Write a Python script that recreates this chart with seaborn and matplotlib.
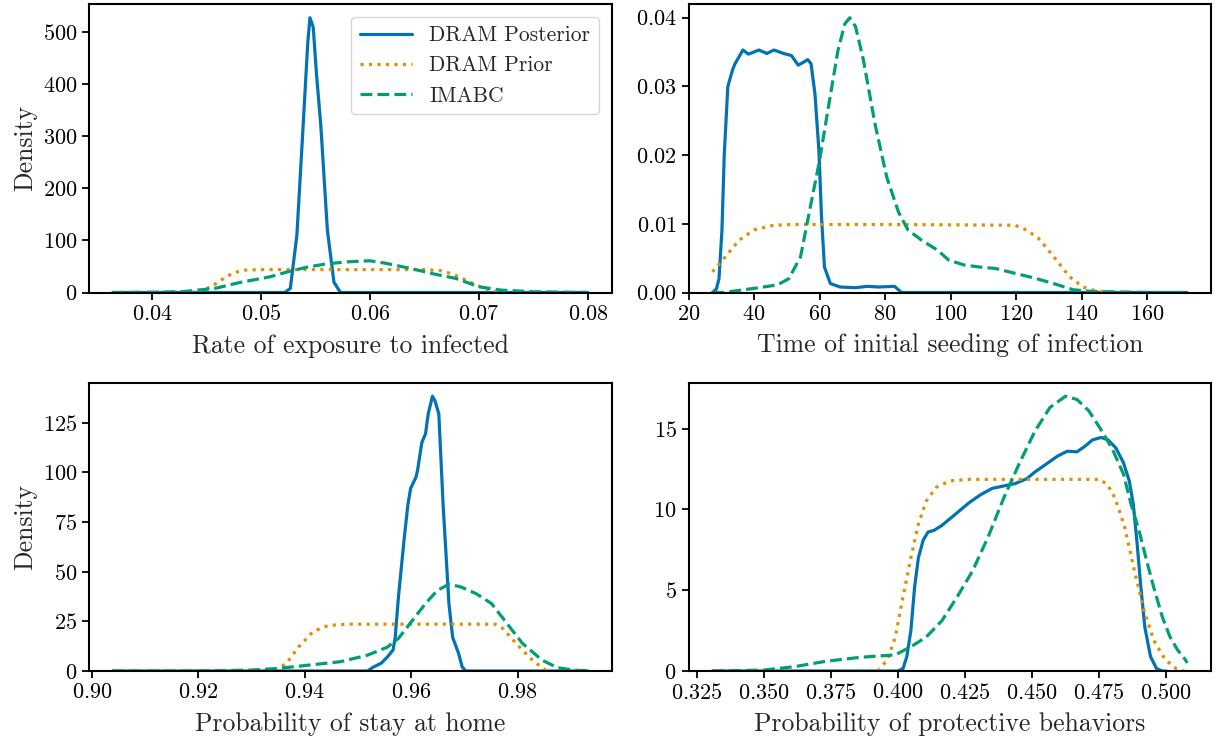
import numpy as np
import pandas as pd
import matplotlib
matplotlib.use("Agg")
import matplotlib.pyplot as plt
import seaborn as sns

# Density curves (x, density) for each panel

# Rate of exposure to infected
exp_post_x = [0.0364, 0.0500, 0.0522, 0.0527, 0.0533, 0.0539, 0.0543, 0.0545, 0.0548, 0.0551, 0.0555, 0.0561, 0.0567, 0.0573, 0.0600, 0.0800]
exp_post_y = [0, 0, 0, 8, 110, 330, 480, 528, 510, 420, 320, 120, 20, 0, 0, 0]
exp_prior_x = [0.0435, 0.0445, 0.0455, 0.0465, 0.0475, 0.0485, 0.0500, 0.0550, 0.0600, 0.0650, 0.0665, 0.0675, 0.0685, 0.0695, 0.0705, 0.0715, 0.0722]
exp_prior_y = [0, 3, 12, 26, 38, 43, 44, 44, 44, 44, 42, 36, 27, 17, 8, 2, 0]
exp_imabc_x = [0.0364, 0.0400, 0.0430, 0.0458, 0.0480, 0.0508, 0.0525, 0.0543, 0.0560, 0.0580, 0.0600, 0.0615, 0.0640, 0.0660, 0.0679, 0.0700, 0.0721, 0.0750, 0.0800]
exp_imabc_y = [0, 0.5, 2, 8, 19, 30, 40, 49, 55, 59, 61, 56, 45, 35, 27, 11, 4.5, 1.5, 0]

# Time of initial seeding of infection
seed_post_x = [27.3, 28.5, 29.3, 30.2, 30.9, 32.0, 33.5, 34.2, 36.6, 38.3, 41.5, 43.9, 46.1, 49.0, 51.4, 53.5, 55.0, 56.4, 57.4, 58.6, 59.8, 60.6, 61.5, 63.3, 66.3, 71.0, 74.6, 78.0, 82.9, 85.0, 172.2]
seed_post_y = [0, 0.0005, 0.002, 0.0090, 0.0200, 0.0300, 0.0325, 0.0333, 0.0353, 0.0347, 0.0353, 0.0348, 0.0353, 0.0348, 0.0345, 0.0331, 0.0335, 0.0339, 0.0333, 0.0289, 0.0207, 0.0110, 0.0037, 0.0013, 0.0008, 0.0007, 0.0009, 0.0008, 0.0009, 0, 0]
seed_prior_x = [27.3, 30.7, 35.4, 40.0, 46.0, 52.0, 80.0, 119.6, 123.2, 126.8, 131.5, 136.3, 140.4, 144.6, 149.0]
seed_prior_y = [0.0030, 0.0049, 0.0076, 0.0091, 0.0098, 0.0099, 0.0099, 0.0098, 0.0091, 0.0079, 0.0052, 0.0023, 0.0008, 0.0002, 0]
seed_imabc_x = [27.3, 30.7, 40.0, 47.1, 50.6, 54.2, 57.2, 60.0, 62.7, 65.6, 67.7, 69.2, 71.0, 73.4, 76.9, 80.5, 84.1, 87.0, 91.2, 95.9, 99.5, 104.2, 109.0, 113.7, 119.6, 125.6, 131.5, 137.4, 143.3, 149.0, 161.0, 172.2]
seed_imabc_y = [0, 0, 0.0006, 0.0011, 0.0020, 0.0052, 0.0125, 0.0192, 0.0270, 0.0352, 0.0391, 0.0400, 0.0387, 0.0338, 0.0246, 0.0168, 0.0117, 0.0091, 0.0076, 0.0062, 0.0047, 0.0040, 0.0037, 0.0035, 0.0028, 0.0021, 0.0013, 0.0004, 0.00015, 0.0001, 0, 0]

# Probability of stay at home
home_post_x = [0.9039, 0.9518, 0.9529, 0.9544, 0.9555, 0.9566, 0.9570, 0.9576, 0.9587, 0.9594, 0.9599, 0.9609, 0.9612, 0.9620, 0.9627, 0.9632, 0.9640, 0.9645, 0.9652, 0.9660, 0.9671, 0.9678, 0.9689, 0.9696, 0.9703, 0.9932]
home_post_y = [0, 0, 2, 4, 7, 10.6, 17, 37, 67, 84, 92, 97.6, 101, 115, 119.5, 129.5, 138.4, 136, 129.5, 84, 34, 17, 9, 2, 0, 0]
home_prior_x = [0.9344, 0.9366, 0.9388, 0.9416, 0.9445, 0.9482, 0.9600, 0.9758, 0.9772, 0.9787, 0.9809, 0.9831, 0.9853, 0.9860]
home_prior_y = [0, 4, 12, 20, 23, 23.6, 23.6, 23.6, 21.5, 17, 10.6, 4.7, 0.5, 0]
home_imabc_x = [0.9039, 0.9200, 0.9300, 0.9350, 0.9408, 0.9467, 0.9518, 0.9555, 0.9576, 0.9598, 0.9627, 0.9649, 0.9671, 0.9693, 0.9722, 0.9751, 0.9780, 0.9809, 0.9846, 0.9875, 0.9904, 0.9932]
home_imabc_y = [0, 0, 0.5, 1.3, 3, 4.7, 8, 12, 16.4, 24, 34, 40.6, 43.7, 42.4, 39, 34, 24, 14, 5.5, 1.7, 0.5, 0]

# Probability of protective behaviors
prot_post_x = [0.3308, 0.4000, 0.4019, 0.4033, 0.4048, 0.4062, 0.4076, 0.4094, 0.4112, 0.4134, 0.4163, 0.4192, 0.4221, 0.4264, 0.4307, 0.4351, 0.4394, 0.4437, 0.4480, 0.4509, 0.4552, 0.4595, 0.4631, 0.4667, 0.4696, 0.4725, 0.4757, 0.4783, 0.4812, 0.4840, 0.4862, 0.4877, 0.4891, 0.4905, 0.4920, 0.4941, 0.4963, 0.4985, 0.5000]
prot_post_y = [0, 0, 0.16, 0.9, 2.5, 5.2, 7.0, 8.1, 8.6, 8.7, 9.0, 9.4, 9.8, 10.4, 10.9, 11.3, 11.45, 11.6, 11.9, 12.3, 12.8, 13.3, 13.6, 13.56, 13.9, 14.3, 14.45, 14.3, 13.8, 12.9, 11.76, 10.3, 7.9, 5.2, 2.7, 0.9, 0.16, 0, 0]
prot_prior_x = [0.3925, 0.3961, 0.3990, 0.4019, 0.4048, 0.4076, 0.4105, 0.4141, 0.4192, 0.4264, 0.4500, 0.4751, 0.4780, 0.4809, 0.4845, 0.4881, 0.4917, 0.4953, 0.4996, 0.5039, 0.5068]
prot_prior_y = [0, 0.7, 2.1, 4.6, 7.0, 9.1, 10.5, 11.35, 11.76, 11.86, 11.86, 11.86, 11.55, 10.7, 8.9, 6.2, 3.75, 1.9, 0.7, 0.12, 0]
prot_imabc_x = [0.3308, 0.3500, 0.3615, 0.3730, 0.3860, 0.3990, 0.4048, 0.4105, 0.4163, 0.4221, 0.4278, 0.4336, 0.4394, 0.4451, 0.4509, 0.4566, 0.4624, 0.4667, 0.4711, 0.4754, 0.4797, 0.4840, 0.4869, 0.4898, 0.4927, 0.4956, 0.4985, 0.5014, 0.5042, 0.5071, 0.5078]
prot_imabc_y = [0, 0.06, 0.27, 0.6, 0.85, 1.0, 1.5, 2.1, 3.1, 4.6, 6.2, 8.3, 10.7, 12.8, 14.8, 16.3, 17.0, 16.8, 16.1, 15.0, 13.8, 12.2, 10.3, 8.7, 6.8, 5.0, 3.35, 2.1, 1.3, 0.7, 0.5]

series_names = ["DRAM Posterior", "DRAM Prior", "IMABC"]
xlabels = ["Rate of exposure to infected", "Time of initial seeding of infection",
           "Probability of stay at home", "Probability of protective behaviors"]

panels = [
    [(exp_post_x, exp_post_y), (exp_prior_x, exp_prior_y), (exp_imabc_x, exp_imabc_y)],
    [(seed_post_x, seed_post_y), (seed_prior_x, seed_prior_y), (seed_imabc_x, seed_imabc_y)],
    [(home_post_x, home_post_y), (home_prior_x, home_prior_y), (home_imabc_x, home_imabc_y)],
    [(prot_post_x, prot_post_y), (prot_prior_x, prot_prior_y), (prot_imabc_x, prot_imabc_y)],
]

sns.set_style("ticks")
plt.rcParams["font.family"] = ["cmr10", "DejaVu Serif"]
plt.rcParams["axes.formatter.use_mathtext"] = True
plt.rcParams["mathtext.fontset"] = "cm"
plt.rcParams["axes.edgecolor"] = "black"
plt.rcParams["xtick.color"] = "black"
plt.rcParams["ytick.color"] = "black"

pal = sns.color_palette("colorblind")
colors = {"DRAM Posterior": pal[0], "DRAM Prior": pal[1], "IMABC": pal[2]}
dashes = {"DRAM Posterior": "", "DRAM Prior": (1, 1.65), "IMABC": (3.7, 1.6)}

fig, axes = plt.subplots(2, 2, figsize=(12.16, 7.4), dpi=100)
fig.subplots_adjust(left=0.0732, right=0.9959, top=0.9946, bottom=0.0932, wspace=0.1474, hspace=0.312)

for i, ax in enumerate(axes.flat):
    frames = []
    for name, (xs, ys) in zip(series_names, panels[i]):
        frames.append(pd.DataFrame({"x": xs, "density": ys, "series": name}))
    df = pd.concat(frames, ignore_index=True)
    sns.lineplot(data=df, x="x", y="density", hue="series", style="series",
                 hue_order=series_names, style_order=series_names,
                 palette=colors, dashes=dashes, linewidth=2.3, estimator=None,
                 sort=False, ax=ax, legend=(i == 0))
    ymax = df["density"].max()
    ax.set_ylim(0, ymax * 1.05)
    ax.set_xlabel(xlabels[i], fontsize=18.5, labelpad=7)
    ax.set_ylabel("Density" if i % 2 == 0 else "", fontsize=18.5)
    ax.tick_params(labelsize=16, length=5, width=1.3, color="black")
    for sp in ax.spines.values():
        sp.set_linewidth(1.5)
        sp.set_color("black")
    if i == 0:
        leg = ax.legend(loc="upper right", fontsize=15.5, frameon=True, handlelength=2.4,
                        borderaxespad=0.6)
        leg.get_frame().set_edgecolor("0.8")

axes[0, 1].set_xlim(20, 179.5)
axes[0, 1].set_xticks([20, 40, 60, 80, 100, 120, 140, 160])
axes[1, 1].set_xticks([0.325, 0.350, 0.375, 0.400, 0.425, 0.450, 0.475, 0.500])
axes[0, 0].set_yticks([0, 100, 200, 300, 400, 500])
axes[1, 0].set_yticks([0, 25, 50, 75, 100, 125])
axes[1, 1].set_yticks([0, 5, 10, 15])

fig.savefig("out.png", dpi=100)
